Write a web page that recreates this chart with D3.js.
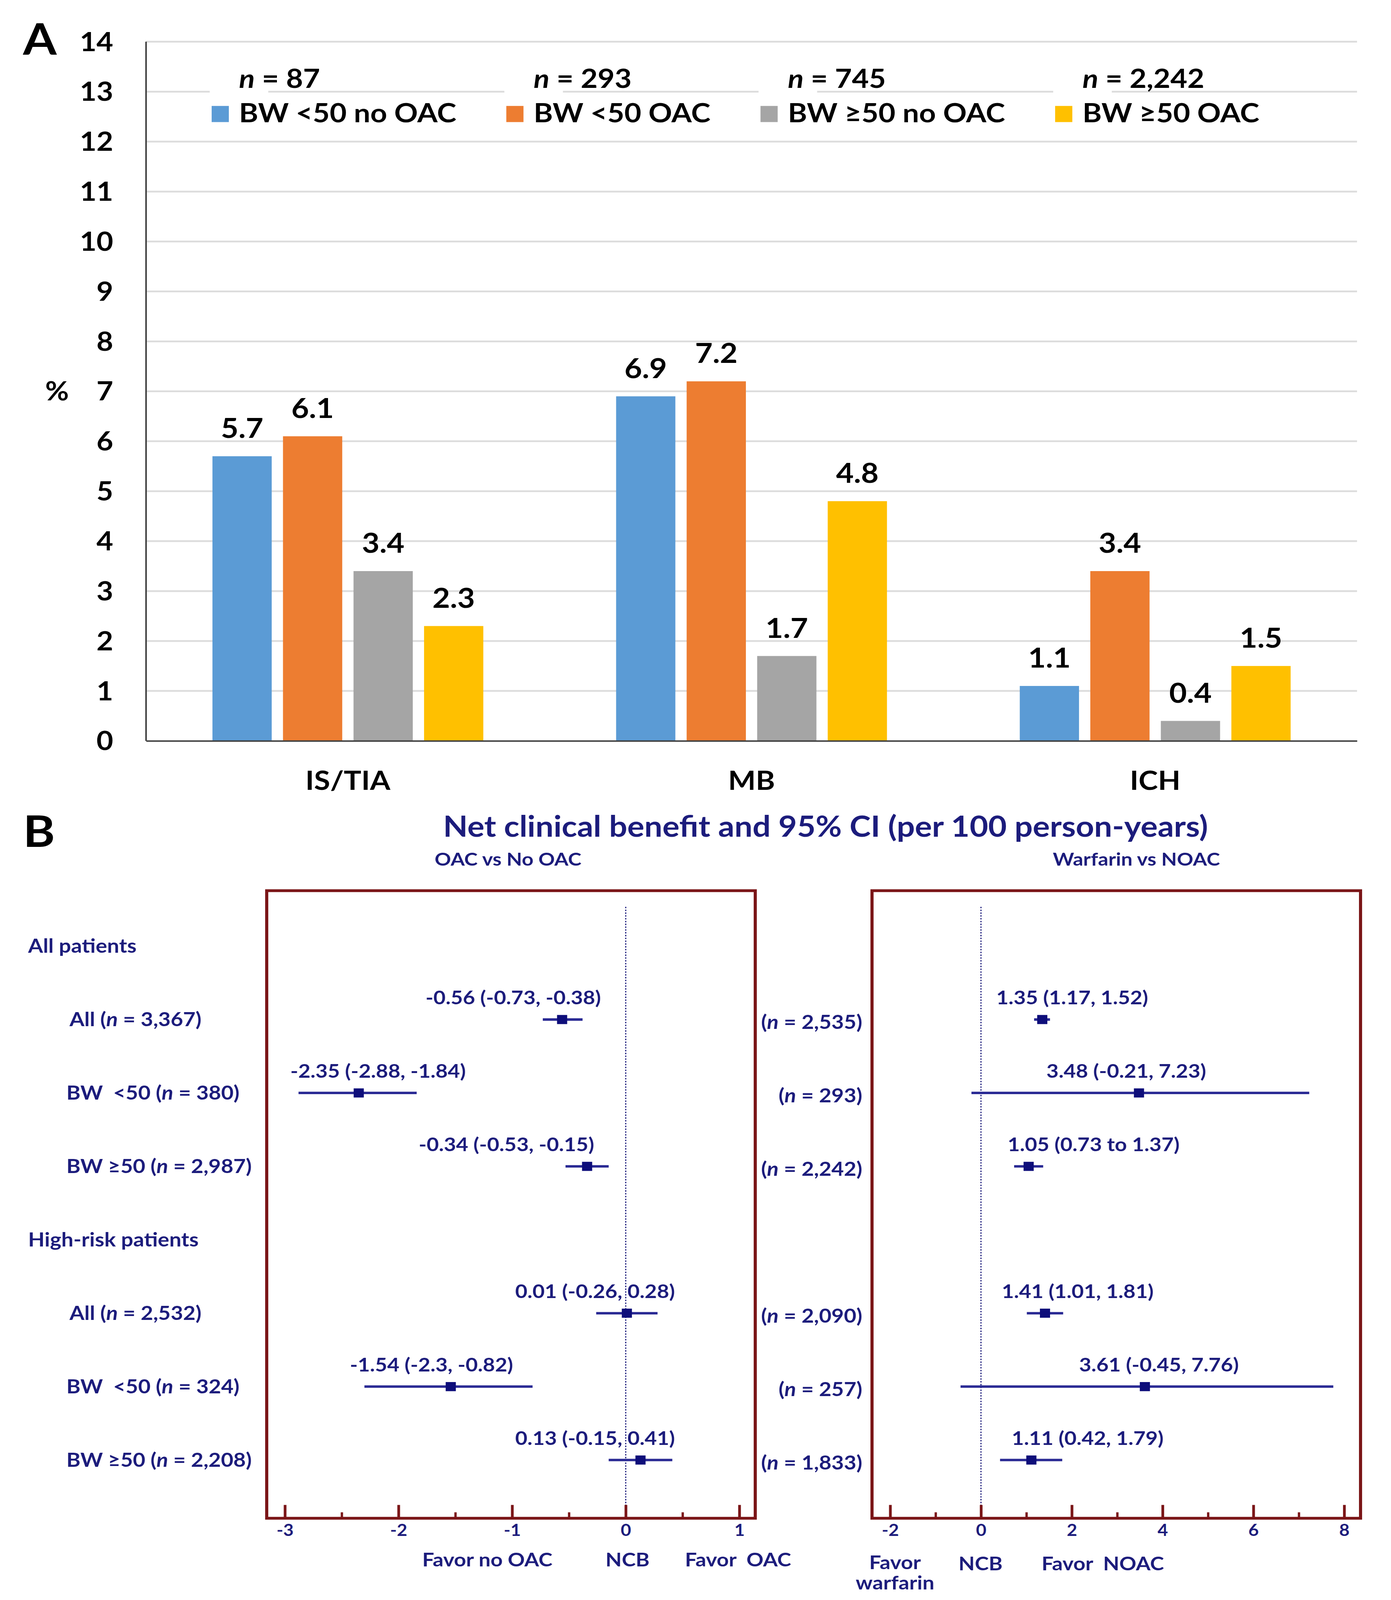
<!DOCTYPE html>
<html>
<head>
<meta charset="utf-8">
<script src="https://cdn.jsdelivr.net/npm/d3@7"></script>
<style>
  html, body { margin: 0; padding: 0; background: #fff; overflow: hidden; }
  svg { display: block; }
  text { white-space: pre; }
</style>
</head>
<body>
<script>
// ---- panel A data ----
var categories = ["IS/TIA", "MB", "ICH"];
var seriesNames = ["BW <50 no OAC", "BW <50 OAC", "BW \u226550 no OAC", "BW \u226550 OAC"];
var seriesN = ["87", "293", "745", "2,242"];
var bwUnderNoOac = [5.7, 6.9, 1.1];
var bwUnderOac = [6.1, 7.2, 3.4];
var bwOverNoOac = [3.4, 1.7, 0.4];
var bwOverOac = [2.3, 4.8, 1.5];
var yTicks = [0, 1, 2, 3, 4, 5, 6, 7, 8, 9, 10, 11, 12, 13, 14];

// ---- panel B data ----
var groupLabels = ["All patients", "High-risk patients"];
var rowNames = ["All", "BW  <50", "BW \u226550", "All", "BW  <50", "BW \u226550"];
var rowN = ["3,367", "380", "2,987", "2,532", "324", "2,208"];
var oacEst = [-0.56, -2.35, -0.34, 0.01, -1.54, 0.13];
var oacLo = [-0.73, -2.88, -0.53, -0.26, -2.3, -0.15];
var oacHi = [-0.38, -1.84, -0.15, 0.28, -0.82, 0.41];
var oacText = ["-0.56 (-0.73, -0.38)", "-2.35 (-2.88, -1.84)", "-0.34 (-0.53, -0.15)",
               "0.01 (-0.26, 0.28)", "-1.54 (-2.3, -0.82)", "0.13 (-0.15, 0.41)"];
var noacN = ["2,535", "293", "2,242", "2,090", "257", "1,833"];
var noacEst = [1.35, 3.48, 1.05, 1.41, 3.61, 1.11];
var noacLo = [1.17, -0.21, 0.73, 1.01, -0.45, 0.42];
var noacHi = [1.52, 7.23, 1.37, 1.81, 7.76, 1.79];
var noacText = ["1.35 (1.17, 1.52)", "3.48 (-0.21, 7.23)", "1.05 (0.73 to 1.37)",
                "1.41 (1.01, 1.81)", "3.61 (-0.45, 7.76)", "1.11 (0.42, 1.79)"];
var oacMajor = [-3, -2, -1, 0, 1];
var oacMinor = [-2.5, -1.5, -0.5, 0.5];
var noacMajor = [-2, 0, 2, 4, 6, 8];
var noacMinor = [-1, 1, 3, 5, 7];

// label nudges (data units) so the estimate texts sit where the figure has them
var oacLabelShift = [-0.43, 0.17, -0.71, -0.28, -0.17, -0.40];
var noacLabelShift = [0.66, -0.28, 1.43, 0.72, 0.31, 1.24];

var FONT = "Lato, 'Open Sans', sans-serif";
var NAVY = "#1c1c7c";
var MARK = "#0e0e7a";
var BOX = "#7b1618";
var colors = ["#5B9BD5", "#ED7D31", "#A5A5A5", "#FFC000"];

var W = 3562, H = 4561;
// drawn in a 3562x4561 coordinate space, stretched to whatever the window is
var svg = d3.select("body").append("svg")
    .attr("viewBox", "0 0 " + W + " " + H).attr("preserveAspectRatio", "none")
    .style("width", "100vw").style("height", "100vh")
    .style("font-family", FONT).style("font-weight", "bold");
svg.append("rect").attr("width", W).attr("height", H).attr("fill", "#fff");

// ================= Panel A =================
var plotLeft = 374, plotRight = 3475, plotTop = 119, plotBase = 2112;
var y = d3.scaleLinear().domain([0, 14]).range([plotBase, plotTop]);
var x0 = d3.scaleBand().domain(categories).range([plotLeft, plotRight]).paddingInner(0.329).paddingOuter(0.1645);
var x1 = d3.scaleBand().domain(d3.range(4)).range([0, x0.bandwidth()]).paddingInner(0.16);

svg.append("text").attr("x", 102).attr("y", 156).attr("text-anchor", "middle")
   .attr("font-size", 124).attr("fill", "#000").text("A");

// gridlines
svg.append("g").selectAll("line").data(yTicks.filter(function (d) { return d > 0; })).enter()
   .append("line")
   .attr("x1", plotLeft).attr("x2", plotRight)
   .attr("y1", function (d) { return y(d); }).attr("y2", function (d) { return y(d); })
   .attr("stroke", "#dcdcdc").attr("stroke-width", 5);

// y tick labels
var yAxis = svg.append("g").attr("transform", "translate(" + plotLeft + ",0)")
   .call(d3.axisLeft(y).tickValues(yTicks).tickSize(0).tickPadding(84).tickFormat(d3.format("d")));
yAxis.select(".domain").remove();
yAxis.selectAll("text").attr("font-size", 74).attr("fill", "#000").attr("font-family", FONT).attr("dy", "0.35em");

svg.append("text").attr("x", 146).attr("y", y(7) + 26).attr("text-anchor", "middle")
   .attr("font-size", 74).attr("fill", "#000").text("%");

// bars
var series = [bwUnderNoOac, bwUnderOac, bwOverNoOac, bwOverOac];
var barData = [];
categories.forEach(function (c, ci) {
  series.forEach(function (s, si) { barData.push({ cat: c, s: si, v: s[ci] }); });
});
var bars = svg.append("g");
bars.selectAll("rect").data(barData).enter().append("rect")
   .attr("x", function (d) { return x0(d.cat) + x1(d.s); })
   .attr("width", x1.bandwidth())
   .attr("y", function (d) { return y(d.v); })
   .attr("height", function (d) { return y(0) - y(d.v); })
   .attr("fill", function (d) { return colors[d.s]; });
bars.selectAll("text").data(barData).enter().append("text")
   .attr("x", function (d) { return x0(d.cat) + x1(d.s) + x1.bandwidth() / 2; })
   .attr("y", function (d) { return y(d.v) - 52; })
   .attr("text-anchor", "middle").attr("font-size", 78).attr("fill", "#000")
   .text(function (d) { return d3.format(".1f")(d.v); });

// axes lines
svg.append("line").attr("x1", plotLeft).attr("x2", plotLeft).attr("y1", plotTop).attr("y2", plotBase)
   .attr("stroke", "#404040").attr("stroke-width", 4);
var xAxis = svg.append("g").attr("transform", "translate(0," + plotBase + ")")
   .call(d3.axisBottom(x0).tickSize(0).tickPadding(86));
xAxis.select(".domain").attr("stroke", "#404040").attr("stroke-width", 4);
xAxis.selectAll("text").attr("font-size", 75).attr("fill", "#000").attr("font-family", FONT).attr("dy", "0.71em");

// legend (flows left to right)
var legend = svg.append("g");
var lx = 542;
seriesNames.forEach(function (name, i) {
  legend.append("rect").attr("x", lx - 5).attr("y", 250).attr("width", 150).attr("height", 24).attr("fill", "#fff");
  legend.append("rect").attr("x", lx).attr("y", 302).attr("width", 44).attr("height", 46).attr("fill", colors[i]);
  var tx = lx + 70;
  var nt = legend.append("text").attr("x", tx).attr("y", 251).attr("font-size", 75).attr("fill", "#000");
  nt.append("tspan").attr("font-style", "italic").text("n");
  nt.append("tspan").text(" = " + seriesN[i]);
  var t = legend.append("text").attr("x", tx).attr("y", 349).attr("font-size", 75).attr("fill", "#000").text(name);
  lx = tx + t.node().getComputedTextLength() + 128;
});

// ================= Panel B =================
svg.append("text").attr("x", 100).attr("y", 2414).attr("text-anchor", "middle")
   .attr("font-size", 124).attr("fill", "#000").text("B");
svg.append("text").attr("x", 2114).attr("y", 2385).attr("text-anchor", "middle")
   .attr("font-size", 82).attr("fill", NAVY).text("Net clinical benefit and 95% CI (per 100 person-years)");

var boxTop = 2539, boxBot = 4328;
var row = d3.scaleLinear().domain([0, 7]).range([2697, 4162]);
var rowSlot = [1, 2, 3, 5, 6, 7];
var xa = d3.scaleLinear().domain([-3.16, 1.14]).range([683, 1934]);
var xb = d3.scaleLinear().domain([-2.4, 8.36]).range([2233, 3484]);

svg.append("text").attr("x", 1301).attr("y", 2468).attr("text-anchor", "middle")
   .attr("font-size", 52).attr("fill", NAVY).text("OAC vs No OAC");
svg.append("text").attr("x", 2910).attr("y", 2468).attr("text-anchor", "middle")
   .attr("font-size", 52).attr("fill", NAVY).text("Warfarin vs NOAC");

// row labels
groupLabels.forEach(function (g, i) {
  svg.append("text").attr("x", 72).attr("y", row(i * 4)).attr("dy", "0.35em")
     .attr("font-size", 55).attr("fill", NAVY).text(g);
});
rowNames.forEach(function (nm, i) {
  var t = svg.append("text").attr("x", nm === "All" ? 178 : 170).attr("y", row(rowSlot[i])).attr("dy", "0.35em")
     .attr("font-size", 55).attr("fill", NAVY);
  t.append("tspan").text(nm + " (");
  t.append("tspan").attr("font-style", "italic").text("n");
  t.append("tspan").text(" = " + rowN[i] + ")");
});
noacN.forEach(function (nn, i) {
  var t = svg.append("text").attr("x", 2208).attr("y", row(rowSlot[i]) + 8).attr("dy", "0.35em")
     .attr("text-anchor", "end").attr("font-size", 55).attr("fill", NAVY);
  t.append("tspan").text("(");
  t.append("tspan").attr("font-style", "italic").text("n");
  t.append("tspan").text(" = " + nn + ")");
});

function forest(x, est, lo, hi, txt, shift, major, minor) {
  var g = svg.append("g");
  // zero line
  g.append("line").attr("x1", x(0)).attr("x2", x(0)).attr("y1", 2585).attr("y2", boxBot)
   .attr("stroke", NAVY).attr("stroke-width", 3).attr("stroke-dasharray", "4,4");
  // axis ticks, pointing up into the box
  var ax = g.append("g").attr("transform", "translate(0," + boxBot + ")")
    .call(d3.axisBottom(x).tickValues(major).tickSize(-38).tickPadding(18).tickFormat(function (d) { return String(d); }));
  ax.select(".domain").remove();
  ax.selectAll("line").attr("stroke", BOX).attr("stroke-width", 7);
  ax.selectAll("text").attr("font-size", 46).attr("fill", NAVY).attr("font-family", FONT).attr("dy", "0.71em");
  var axm = g.append("g").attr("transform", "translate(0," + boxBot + ")")
    .call(d3.axisBottom(x).tickValues(minor).tickSize(-17).tickFormat(""));
  axm.select(".domain").remove();
  axm.selectAll("line").attr("stroke", BOX).attr("stroke-width", 6);
  // box
  var r = x.range();
  g.append("rect").attr("x", r[0]).attr("y", boxTop).attr("width", r[1] - r[0]).attr("height", boxBot - boxTop)
   .attr("fill", "none").attr("stroke", BOX).attr("stroke-width", 8);
  // CIs
  est.forEach(function (e, i) {
    var yy = row(rowSlot[i]);
    g.append("line").attr("x1", x(lo[i])).attr("x2", x(hi[i])).attr("y1", yy).attr("y2", yy)
     .attr("stroke", "#2a2a94").attr("stroke-width", 7);
    g.append("rect").attr("x", x(e) - 13).attr("y", yy - 13).attr("width", 26).attr("height", 26).attr("fill", MARK);
    g.append("text").attr("x", x(e + shift[i])).attr("y", yy - 62).attr("dy", "0.35em")
     .attr("text-anchor", "middle").attr("font-size", 54).attr("fill", NAVY).text(txt[i]);
  });
}
forest(xa, oacEst, oacLo, oacHi, oacText, oacLabelShift, oacMajor, oacMinor);
forest(xb, noacEst, noacLo, noacHi, noacText, noacLabelShift, noacMajor, noacMinor);

// favour labels
function note(x, yy, s) {
  svg.append("text").attr("x", x).attr("y", yy).attr("dy", "0.35em").attr("text-anchor", "middle")
     .attr("font-size", 54).attr("fill", NAVY).text(s);
}
note(1248, 4446, "Favor no OAC");
note(1607, 4446, "NCB");
note(1890, 4446, "Favor  OAC");
note(2292, 4454, "Favor");
note(2292, 4512, "warfarin");
note(2511, 4458, "NCB");
note(2824, 4458, "Favor  NOAC");
</script>
</body>
</html>
